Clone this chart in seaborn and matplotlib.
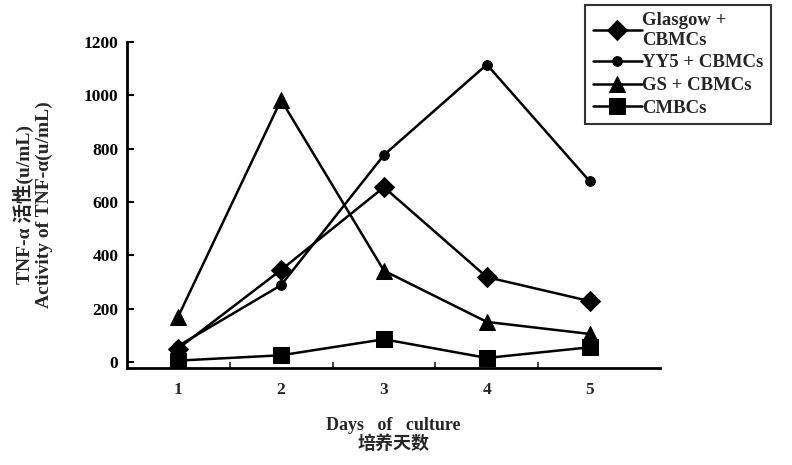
import matplotlib
matplotlib.use("Agg")
import matplotlib.pyplot as plt
import seaborn as sns
import numpy as np
import pandas as pd

days = [1, 2, 3, 4, 5]
glasgow = [50, 345, 655, 318, 228]
yy5 = [60, 288, 776, 1115, 677]
gs = [170, 982, 342, 150, 105]
cmbcs = [5, 25, 85, 15, 55]

series_names = ["Glasgow +\nCBMCs", "YY5 + CBMCs", "GS + CBMCs", "CMBCs"]
series_values = [glasgow, yy5, gs, cmbcs]
markers = ["D", "o", "^", "s"]
msizes = [10, 7, 11, 11]

sns.set_theme(style="white")
plt.rcParams['font.family'] = ['Liberation Serif', 'Noto Sans CJK SC']

fig = plt.figure(figsize=(7.92, 4.65), dpi=100)
ax = fig.add_axes([0.160, 0.209, 0.673, 0.701])

for name, vals, m, ms in zip(series_names, series_values, markers, msizes):
    df = pd.DataFrame({"day": days, "val": vals})
    sns.lineplot(data=df, x="day", y="val", ax=ax, color="black", marker=m,
                 markersize=ms, linewidth=1.8, markeredgecolor="black",
                 markerfacecolor="black", label=name, legend=False)

ax.set_xlim(0.5, 5.68)
ax.set_ylim(-22, 1200)
ax.set_xticks(days)
ax.set_xticklabels([str(d) for d in days])
ax.set_xticks([1.5, 2.5, 3.5, 4.5], minor=True)
ax.set_yticks([0, 200, 400, 600, 800, 1000, 1200])
for s in ["top", "right"]:
    ax.spines[s].set_visible(False)
for s in ["left", "bottom"]:
    ax.spines[s].set_color("black")
    ax.spines[s].set_linewidth(2)
ax.tick_params(axis="y", direction="in", length=5, width=1.5, colors="black",
               labelsize=12.5, pad=6, left=True)
ax.tick_params(axis="x", which="major", direction="in", length=0, labelsize=12.5,
               pad=10, bottom=True)
ax.tick_params(axis="x", which="minor", direction="in", length=4, width=1.2,
               bottom=True)
for lab in ax.get_xticklabels() + ax.get_yticklabels():
    lab.set_fontweight("bold")

ax.set_xlabel("Days   of   culture\n培养天数", fontsize=13, fontweight="bold",
              labelpad=14, linespacing=1.05)
ax.set_ylabel("TNF-α 活性(u/mL)\nActivity of TNF-α(u/mL)", fontsize=14,
              fontweight="bold", labelpad=22, linespacing=1.1)

handles, labels = ax.get_legend_handles_labels()
leg = fig.legend(handles, labels, loc="upper left", bbox_to_anchor=(0.739, 0.99),
                 frameon=True, fancybox=False, edgecolor="black", fontsize=13.5,
                 labelspacing=0.3, handlelength=2.6, handletextpad=0.05,
                 borderpad=0.4, borderaxespad=0)
leg.get_frame().set_linewidth(1.5)
for t in leg.get_texts():
    t.set_fontweight("bold")

fig.savefig("out.png", dpi=100)
